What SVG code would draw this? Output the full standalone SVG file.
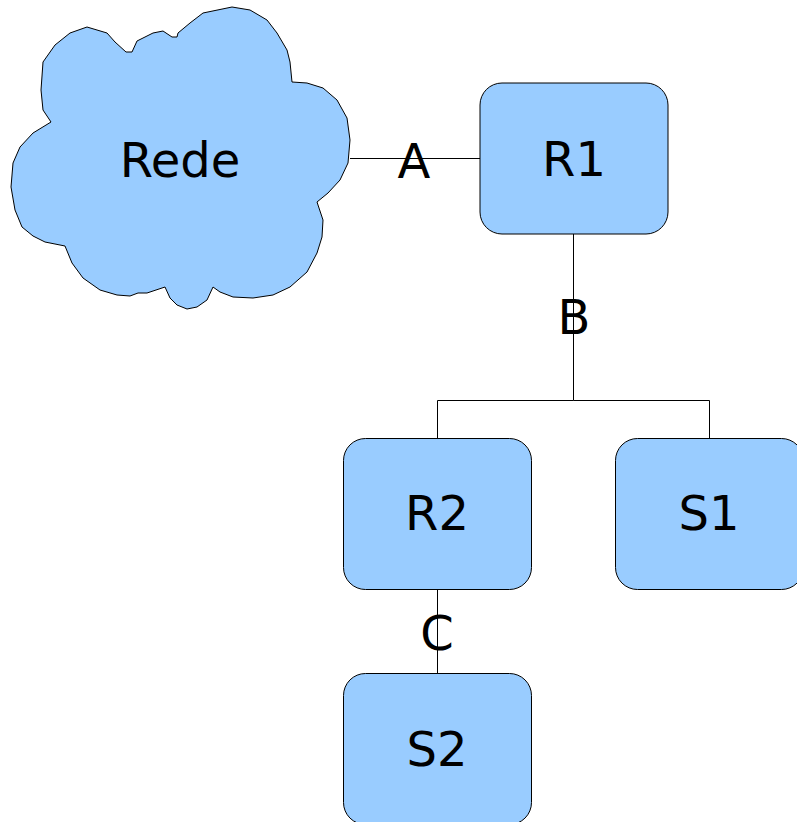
<svg xmlns="http://www.w3.org/2000/svg" width="797" height="822" viewBox="0 0 797 822">
  <style>
    .shape { fill: #99ccff; stroke: #000; stroke-width: 1; }
    .wire { fill: none; stroke: #000; stroke-width: 1; }
    text { font-family: "DejaVu Sans", sans-serif; font-size: 48px; fill: #000; text-anchor: middle; }
  </style>
  <rect width="797" height="822" fill="#fff"/>

  <!-- links -->
  <g id="connectors">
    <line class="wire" x1="350" y1="158.5" x2="480" y2="158.5"/>
    <polyline class="wire" points="573.5,234 573.5,400.5 437.5,400.5 437.5,438"/>
    <polyline class="wire" points="573.5,400.5 709.5,400.5 709.5,438"/>
    <line class="wire" x1="437.5" y1="590" x2="437.5" y2="673"/>
    <text x="414" y="178">A</text>
    <text x="574" y="334">B</text>
    <text x="437" y="650">C</text>
  </g>

  <g id="rede">
    <path class="shape" d="M126,52 L115,42 L107,33 L87,27 L70,33 L55,45 L43,62 L41,90 L43,110 L51,122 L33,133 L20,147 L13,163 L11,187 L15,210 L22,227 L33,236 L45,242 L65,246 L72,263 L83,278 L100,290 L117,295 L130,296 L138,293 L147,293 L165,287 L170,298 L177,305 L187,309 L197,307 L207,300 L213,287 L220,292 L233,297 L253,298 L273,295 L290,287 L307,272 L317,253 L322,237 L323,220 L317,202 L328,193 L340,180 L348,163 L350,140 L347,118 L337,100 L323,88 L307,83 L292,82 L290,62 L287,50 L277,33 L267,20 L250,10 L232,7 L203,13 L190,23 L178,33 L177,37 L172,37 L163,31 L153,33 L137,41 L132,52 Z"/>
    <text x="180" y="177">Rede</text>
  </g>

  <g id="r1">
    <rect class="shape" x="480" y="83" width="188" height="151" rx="22" ry="22"/>
    <text x="574" y="176">R1</text>
  </g>

  <g id="r2">
    <rect class="shape" x="343.5" y="438.5" width="188" height="151" rx="22" ry="22"/>
    <text x="437" y="530">R2</text>
  </g>

  <g id="s1">
    <rect class="shape" x="615.5" y="438.5" width="188" height="151" rx="22" ry="22"/>
    <text x="709" y="530">S1</text>
  </g>

  <g id="s2">
    <rect class="shape" x="343.5" y="673.5" width="188" height="151" rx="22" ry="22"/>
    <text x="437" y="766">S2</text>
  </g>
</svg>
